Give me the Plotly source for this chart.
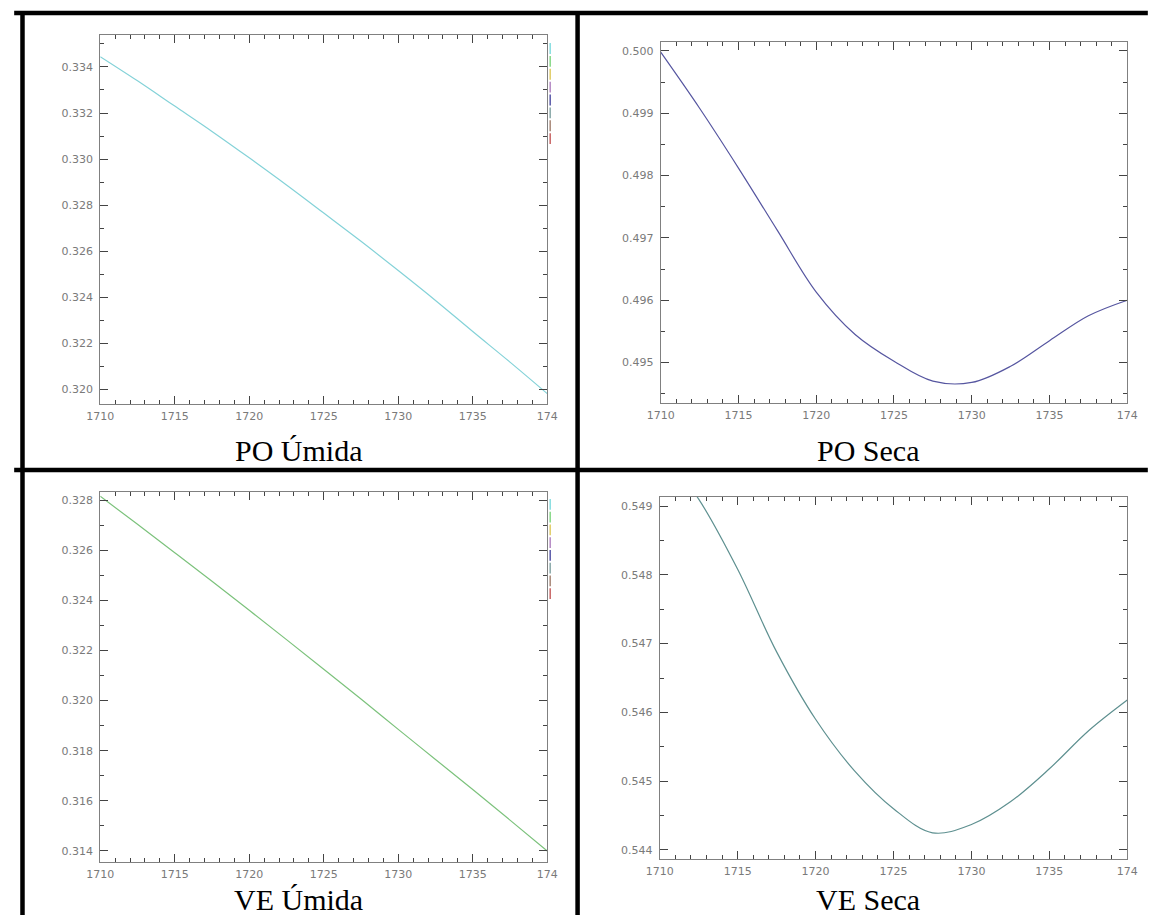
import plotly.graph_objects as go

W, H = 1159, 923
M = 8                      # default page body margin
FW, FH = W - 2 * M, H - 2 * M

years = [1710, 1712.5, 1715, 1717.5, 1720, 1722.5, 1725, 1727.5, 1730, 1732.5, 1735, 1737.5, 1740]

po_umida = [0.33445, 0.33340, 0.33230, 0.33120, 0.33005, 0.32887, 0.32765,
            0.32642, 0.32515, 0.32385, 0.32250, 0.32117, 0.31980]
po_seca = [0.49998, 0.49908, 0.49812, 0.49712, 0.49613, 0.49545, 0.49502,
           0.49470, 0.49468, 0.49494, 0.49535, 0.49575, 0.49600]
ve_umida = [0.32815, 0.32703, 0.32590, 0.32476, 0.32360, 0.32243, 0.32125,
            0.32006, 0.31885, 0.31765, 0.31645, 0.31523, 0.31400]
ve_seca = [0.54985, 0.54910, 0.54808, 0.54688, 0.54590, 0.54515, 0.54460,
           0.54425, 0.54437, 0.54470, 0.54518, 0.54573, 0.54618]

captions = ["PO Úmida", "PO Seca", "VE Úmida", "VE Seca"]
x_tickvals = [1710, 1715, 1720, 1725, 1730, 1735, 1740]
x_ticktext = ["1710", "1715", "1720", "1725", "1730", "1735", "174"]


def px(x):
    return (x - M) / FW


def py(y):
    return 1 - (y - M) / FH


panels = [
    dict(box=(88, 545, 35, 404), yr=(0.319348, 0.335391), dt=0.002, data=po_umida, color="#84d2d8"),
    dict(box=(661, 1138, 42, 403), yr=(0.49435, 0.500144), dt=0.001, data=po_seca, color="#5656a0"),
    dict(box=(88, 545, 492, 862), yr=(0.31356, 0.32832), dt=0.002, data=ve_umida, color="#7cc27c"),
    dict(box=(660, 1138, 497, 859), yr=(0.543869, 0.549131), dt=0.001, data=ve_seca, color="#5e9090"),
]

fig = go.Figure()
layout = dict(width=FW, height=FH, margin=dict(l=0, r=0, t=0, b=0),
              paper_bgcolor="white", plot_bgcolor="white", showlegend=False)

axfont = dict(family="DejaVu Sans", size=11, color="#7a7a7a")
for i, p in enumerate(panels):
    n = "" if i == 0 else str(i + 1)
    x0, x1, yt, yb = p["box"]
    fig.add_trace(go.Scatter(x=years, y=p["data"], mode="lines",
                             line=dict(color=p["color"], width=1.2, shape="spline", smoothing=1.0),
                             xaxis="x" + n, yaxis="y" + n, hoverinfo="skip"))
    layout["xaxis" + n] = dict(domain=[px(x0), px(x1)], anchor="y" + n, range=[1710, 1740],
                               tickvals=x_tickvals, ticktext=x_ticktext,
                               ticks="inside", ticklen=8, tickcolor="#444", tickwidth=1,
                               showline=True, linecolor="#808080", linewidth=1, mirror="ticks",
                               showgrid=False, zeroline=False, tickfont=axfont,
                               ticklabelstandoff=2,
                               minor=dict(dtick=1, tick0=1710, ticks="inside", ticklen=4,
                                          tickcolor="#444", showgrid=False))
    layout["yaxis" + n] = dict(domain=[py(yb), py(yt)], anchor="x" + n, range=list(p["yr"]),
                               dtick=p["dt"], tick0=0, tickformat=".3f",
                               ticks="inside", ticklen=8, tickcolor="#444", tickwidth=1,
                               showline=True, linecolor="#808080", linewidth=1, mirror="ticks",
                               showgrid=False, zeroline=False, tickfont=axfont,
                               ticklabelstandoff=4,
                               minor=dict(dtick=p["dt"] / 2, tick0=0, ticks="inside", ticklen=4,
                                          tickcolor="#444", showgrid=False))

fig.update_layout(**layout)

cap_pos = [(291, 450), (873, 450), (291, 899), (873, 899)]
for txt, (cx, cy) in zip(captions, cap_pos):
    fig.add_annotation(text=txt, x=px(cx), y=py(cy), xref="paper", yref="paper",
                       showarrow=False, xanchor="center", yanchor="middle",
                       font=dict(family="Liberation Serif", size=30, color="black"))

bw = 4.5
borders = [
    (0, 13, W, 13),      # top
    (8.5, 11, 8.5, H),   # left
    (576, 11, 576, H),   # middle vertical
    (0, 470, W, 470),    # middle horizontal
]
for x0, y0, x1, y1 in borders:
    fig.add_shape(type="line", x0=px(x0), y0=py(y0), x1=px(x1), y1=py(y1),
                  xref="paper", yref="paper", line=dict(color="black", width=bw))

mark_colors = ["#86dde0", "#86d886", "#e0cc66", "#b488c4", "#5858a8", "#88a8a8", "#a88878", "#c86464"]
for top, bot in [(42, 145), (498, 600)]:
    step = (bot - top) / len(mark_colors)
    for k, c in enumerate(mark_colors):
        fig.add_shape(type="line", x0=px(548), x1=px(548),
                      y0=py(top + k * step + 1), y1=py(top + (k + 1) * step - 1),
                      xref="paper", yref="paper", line=dict(color=c, width=1.5))

fig.write_html("out.html")
